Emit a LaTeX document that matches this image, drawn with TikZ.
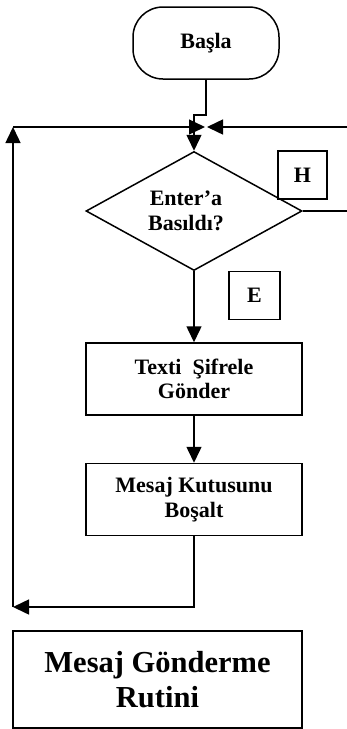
\documentclass[tikz,border=0pt]{standalone}
\usepackage{fontspec}
\setmainfont{Liberation Serif}
\usetikzlibrary{shapes.geometric,arrows.meta}
\begin{document}
\begin{tikzpicture}[x=1pt,y=-1pt,
  line width=1.5pt,
  tip/.style={-{Triangle[length=16pt,width=15pt]}},
  lbl/.style={font=\fontsize{22}{24.5}\selectfont\bfseries, align=center, inner sep=0pt},
  procbox/.style={draw, lbl, minimum width=216pt, minimum height=72pt},
  tagbox/.style={draw, lbl, minimum width=49pt, minimum height=48pt},
  terminal/.style={draw, lbl, rounded corners=30pt, minimum width=146pt, minimum height=72pt},
  decision/.style={draw, diamond, minimum width=216pt, minimum height=119pt, inner sep=0pt}
]
\useasboundingbox (0,0) rectangle (346,729);

% flow elements
\node[terminal] (start) at (206,43) {Başla};
\node[decision] (dec) at (194,211) {};
\node[lbl] (dectext) at (186,211) {Enter’a\\Basıldı?};
\node[tagbox] (h) at (302.5,175) {H};
\node[tagbox, minimum width=51pt] (e) at (254.5,295.5) {E};
\node[procbox] (send) at (194,379) {Texti\ \ Şifrele\\Gönder};
\node[procbox] (clear) at (194,499.5) {Mesaj Kutusunu\\Boşalt};
\node[draw, inner sep=0pt, align=center, minimum width=289pt, minimum height=97pt,
      font=\fontsize{30.5}{35}\selectfont\bfseries] (title) at (157.5,679.5) {Mesaj Gönderme\\Rutini};

% junction points of the loop
\coordinate (jl) at (205,127);
\coordinate (jr) at (207,127);
\coordinate (tl) at (13,127);
\coordinate (bl) at (13,607);

% entry into the decision
\draw[tip] (start.south) -- (206,115) -| (dec.north);
% "no" branch back to the junction
\draw[tip] (dec.east) -- (352,211) |- (jr);
% "yes" branch
\draw[tip] (dec.south) -- (send.north);
\draw[tip] (send.south) -- (clear.north);
% loop back to the top
\draw[tip] (clear.south) |- (bl);
\draw[tip] (bl) -- (tl);
\draw[tip] (tl) -- (jl);
\end{tikzpicture}
\end{document}
